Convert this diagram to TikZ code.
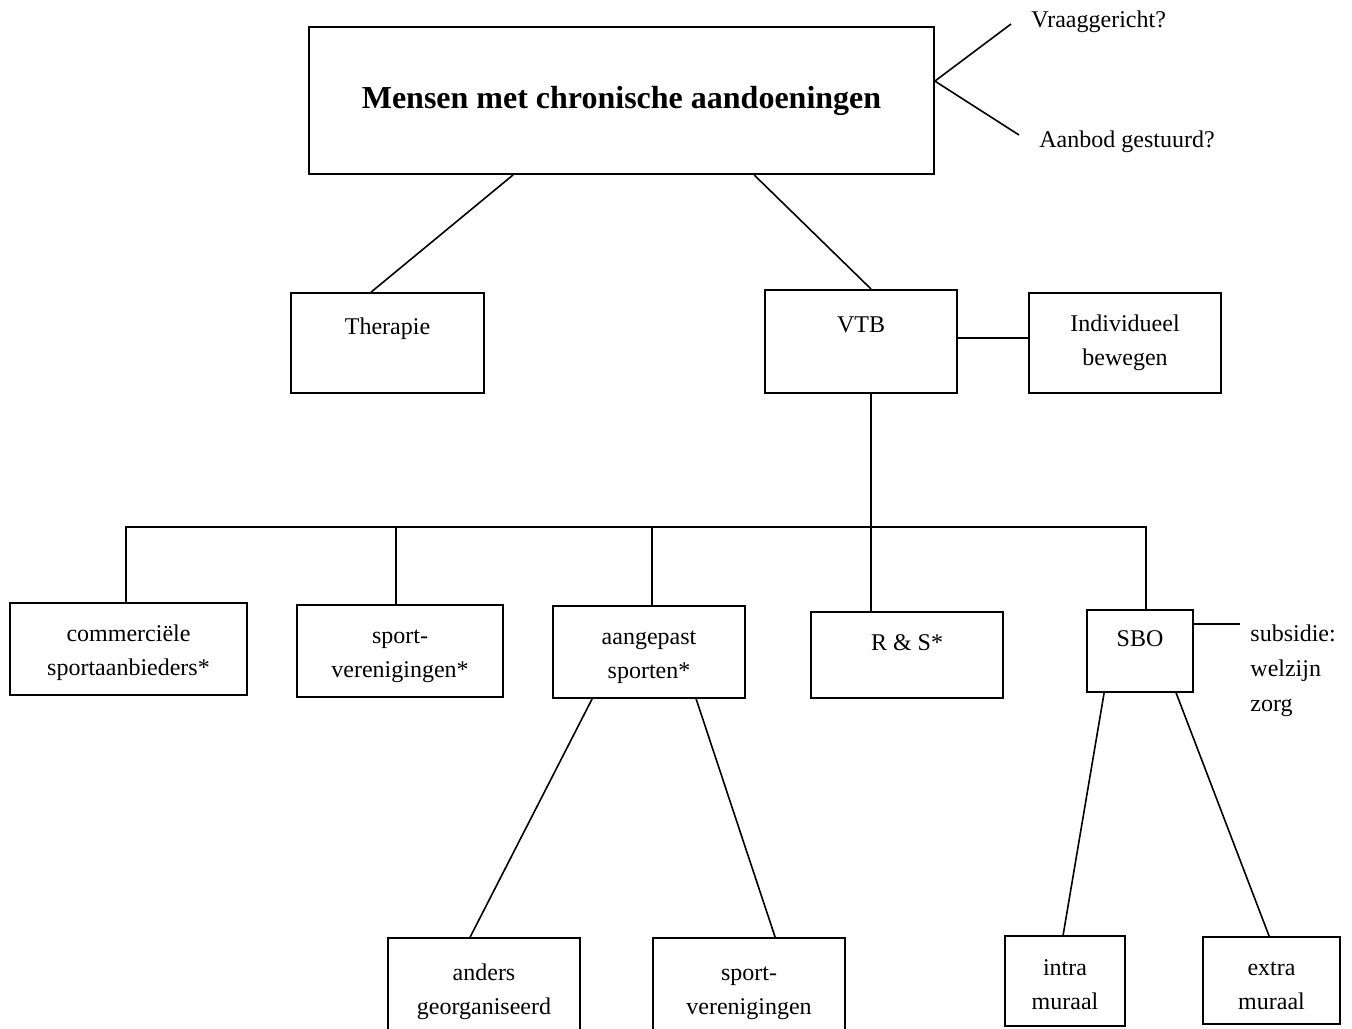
\documentclass[tikz,border=0pt]{standalone}
\usepackage{fontspec}
\setmainfont{Liberation Serif}
\usetikzlibrary{calc}

\begin{document}
\begin{tikzpicture}[x=0.5pt,y=-0.5pt,
	box/.style={shape=rectangle,draw=black,line width=0.9pt,align=center,inner sep=0pt,font=\fontsize{12}{17}\selectfont},
	boxtwo/.style={box,text height=29pt},
	txt/.style={inner sep=0pt,align=left,font=\fontsize{12}{17.5}\selectfont},
	conn/.style={-,line width=0.8pt,black}]
			\useasboundingbox (0,0) rectangle (1352,1028);
			
			% top level
			\node[box,minimum width=312.5pt,minimum height=73.5pt,font=\fontsize{16}{19}\selectfont\bfseries] (main) at (621.5,100.5) {Mensen met chronische aandoeningen};
			\node[txt,anchor=west] (vraag) at (1031,22) {Vraaggericht?};
			\node[txt,anchor=west] (aanbod) at (1039,142) {Aanbod gestuurd?};
			\coordinate (vraagL) at (1011,24);
			\coordinate (aanbodL) at (1019,135);
			
			\node[box,minimum width=96.5pt,minimum height=50pt] (therapie) at (387.5,343) {Therapie\\\mbox{}};
			\node[box,minimum width=96pt,minimum height=51.5pt] (VTB) at (861,341.5) {VTB\\\mbox{}};
			\node[box,minimum width=96pt,minimum height=50pt] (indiv) at (1125,343) {Individueel\\bewegen};
			
			% second level
			\node[boxtwo,minimum width=118.5pt,minimum height=46pt] (commerc) at (128.5,649) {commerciële\\sportaanbieders*};
			\node[boxtwo,minimum width=103pt,minimum height=46pt] (sportver) at (400,651) {sport-\\verenigingen*};
			\node[boxtwo,minimum width=96pt,minimum height=46pt] (aangepast) at (649,652) {aangepast\\sporten*};
			\node[boxtwo,minimum width=96pt,minimum height=43pt] (RS) at (907,655) {R \& S*\\\mbox{}};
			\node[boxtwo,minimum width=53pt,minimum height=41pt] (SBO) at (1140,651) {SBO\\\mbox{}};
			\node[txt,anchor=north west] (subsidie) at (1250,624) {subsidie:\\welzijn\\zorg};
			\coordinate (subsidieL) at (1240,625);
			
			% third level
			\node[boxtwo,minimum width=96pt,minimum height=50pt] (anders) at (484,988) {anders\\georganiseerd};
			\node[boxtwo,minimum width=96pt,minimum height=50pt] (sportverB) at (749,988) {sport-\\verenigingen};
			\node[boxtwo,minimum width=60pt,minimum height=45pt] (intra) at (1065,981) {intra\\muraal};
			\node[boxtwo,minimum width=68.5pt,minimum height=43.5pt] (extra) at (1271.5,980.5) {extra\\muraal};
			
			\coordinate (busL) at (125,527);
			\coordinate (bus) at (872,527);
			\coordinate (busR) at (1147,527);
			
			\path [conn] ($(main.north east)+(0,55)$) coordinate (vr) edge (vraagL) edge (aanbodL);
			\path [conn] ($(main.south west)+(205,0)$) edge ($(therapie.north west)+(81,0)$);
			\path [conn] ($(main.south west)+(446,0)$) edge ($(VTB.north west)+(107,0)$);
			\path [conn] ($(indiv.west)+(0,-5)$) coordinate (ib) edge (VTB.east |- ib);
			\path [conn] ($(VTB.south west)+(107,0)$) coordinate (vb) edge (vb |- bus);
			\path [conn] (busL) edge (busR);
			\foreach \n/\dx in {commerc/117, sportver/100, aangepast/100, RS/61, SBO/60}{
				\path ($(\n.north west)+(\dx,0)$) coordinate (drop);
				\path [conn] (drop) edge (drop |- bus);
			}
			\path [conn] ($(SBO.north east)+(0,15)$) coordinate (sb) edge (subsidieL |- sb);
			\path [conn] ($(aangepast.south west)+(40,0)$) edge ($(anders.north west)+(83,0)$);
			\path [conn] ($(aangepast.south west)+(144,0)$) edge ($(sportverB.north west)+(123,0)$);
			\path [conn] ($(SBO.south west)+(18,0)$) edge ($(intra.north west)+(59,0)$);
			\path [conn] ($(SBO.south west)+(90,0)$) edge ($(extra.north west)+(67,0)$);
			\end{tikzpicture}
\end{document}
